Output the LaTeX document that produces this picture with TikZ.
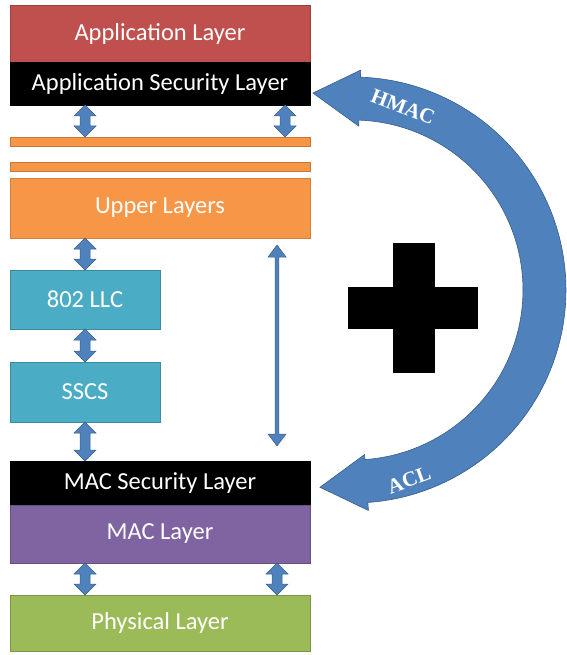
\documentclass[tikz,border=0pt]{standalone}
\usepackage{fontspec}
\setmainfont{Carlito}
\newfontfamily\arclabelfont{Liberation Serif}
\usepackage{tikz}
\usetikzlibrary{positioning,calc}

\definecolor{appred}{HTML}{C0504D}
\definecolor{upperorange}{HTML}{F79646}
\definecolor{llcteal}{HTML}{4BACC6}
\definecolor{macpurple}{HTML}{8064A2}
\definecolor{phygreen}{HTML}{9BBB59}
\definecolor{arrowblue}{HTML}{4F81BD}
\definecolor{arrowedge}{HTML}{385D8A}

\tikzset{
	layer/.style={rectangle, minimum width=300pt, inner sep=0pt, outer sep=0pt,
		text=white, font=\fontsize{24.5}{28}\selectfont, line width=0.6pt},
	% vertical double block arrow: shaft half width, head half width, head length
	updown/.style n args={3}{to path={let \p1=(\tikztostart), \p2=(\tikztotarget) in
		(\x1,\y1) -- (\x1+#2,\y1-#3) -- (\x1+#1,\y1-#3) -- (\x1+#1,\y2+#3) -- (\x1+#2,\y2+#3) -- (\x1,\y2)
		-- (\x1-#2,\y2+#3) -- (\x1-#1,\y2+#3) -- (\x1-#1,\y1-#3) -- (\x1-#2,\y1-#3) -- cycle}},
	fatarrow/.style={fill=arrowblue, draw=arrowedge, line width=0.5pt, updown={5pt}{11pt}{11pt}},
	slimarrow/.style={fill=arrowblue, draw=arrowedge, line width=0.5pt, updown={1.8pt}{9pt}{12pt}},
	arclabel/.style={text=white, font=\arclabelfont\bfseries\fontsize{21}{24}\selectfont},
}

\begin{document}
\begin{tikzpicture}[x=1pt,y=-1pt]
	\useasboundingbox (0,0) rectangle (566,655);

	% protocol stack
	\node[layer, fill=appred, draw=appred!80!black, minimum height=57pt] (app) at (160,33.5) {Application Layer};
	\node[layer, fill=black, draw=black, minimum height=43pt, below=0pt of app] (appsec) {Application Security Layer};
	\node[layer, fill=upperorange, draw=upperorange!80!black, minimum height=9pt, below=32pt of appsec] (bar1) {};
	\node[layer, fill=upperorange, draw=upperorange!80!black, minimum height=9pt, below=16pt of bar1] (bar2) {};
	\node[layer, fill=upperorange, draw=upperorange!85!black, minimum height=60pt, below=7pt of bar2] (upper) {Upper Layers};
	\node[layer, fill=llcteal, draw=llcteal!80!black, minimum width=150pt, minimum height=59pt,
		below right=32pt and 0pt of upper.south west] (llc) {802 LLC};
	\node[layer, fill=llcteal, draw=llcteal!80!black, minimum width=150pt, minimum height=60pt, below=33pt of llc] (sscs) {SSCS};
	\node[layer, fill=black, draw=black, minimum height=44pt,
		below right=39pt and 0pt of sscs.south west] (macsec) {MAC Security Layer};
	\node[layer, fill=macpurple, draw=macpurple!80!black, minimum height=58pt, below=0pt of macsec] (mac) {MAC Layer};
	\node[layer, fill=phygreen, draw=phygreen!80!black, minimum height=56pt, below=32pt of mac] (phys) {Physical Layer};

	\coordinate (rtop) at (285,0);
	\coordinate (rlow) at (277,0);

	% arrows between the layers
	\draw[fatarrow] (appsec.south -| llc) to (bar1.north -| llc);
	\draw[fatarrow] (appsec.south -| rtop) to (bar1.north -| rtop);
	\draw[fatarrow] (upper.south -| llc) to (llc.north);
	\draw[fatarrow] (llc.south) to (sscs.north);
	\draw[fatarrow] (sscs.south) to (macsec.north -| sscs);
	\draw[slimarrow] ([yshift=-7pt]upper.south -| rlow) to ([yshift=15pt]macsec.north -| rlow);
	\draw[fatarrow] (mac.south -| llc) to (phys.north -| llc);
	\draw[fatarrow] (mac.south -| rlow) to (phys.north -| rlow);

	% curved arrow on the right
	\begin{scope}[shift={(353,290)}]
		\draw[fill=arrowblue, draw=arrowedge, line width=0.6pt]
			(-88:213) -- plot[domain=-88:86, samples=80] (\x:213)
			-- (86:221) -- (99.5:200) -- (86:165) -- (86:170)
			-- plot[domain=86:-88, samples=80] (\x:170)
			-- (-88:164) -- (-101.5:201) -- (-88:220) -- cycle;
	\end{scope}
	\node[arclabel, rotate=-21] (hmac) at (403,107) {HMAC};
	\node[arclabel, rotate=20] (acl) at (409,480) {ACL};

	% plus sign
	\fill (393,243) rectangle (435,373);
	\fill (348,287) rectangle (478,329);
\end{tikzpicture}
\end{document}
